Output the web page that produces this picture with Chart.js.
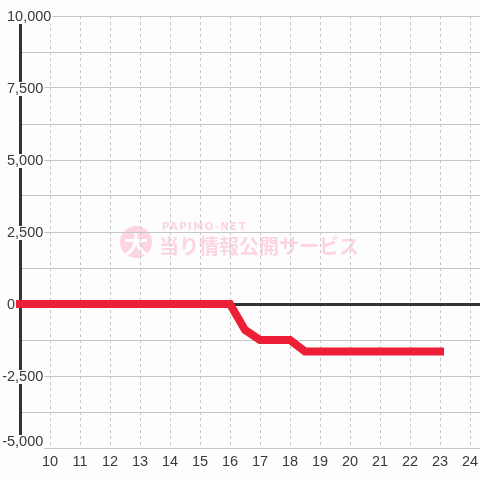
<!DOCTYPE html>
<html>
<head>
<meta charset="utf-8">
<script src="https://cdn.jsdelivr.net/npm/chart.js@4"></script>
<style>
  html, body { margin: 0; padding: 0; background: #fcfdfc; }
  #wrap { width: 480px; height: 480px; }
</style>
</head>
<body>
<div id="wrap"><canvas id="chart" width="480" height="480"></canvas></div>
<script>
// Hourly balance, sampled every half hour
const HOURS = [9, 9.5, 10, 10.5, 11, 11.5, 12, 12.5, 13, 13.5, 14, 14.5, 15, 15.5, 16,
               16.5, 17, 17.5, 18, 18.5, 19, 19.5, 20, 20.5, 21, 21.5, 22, 22.5, 23];
const BALANCE = [0, 0, 0, 0, 0, 0, 0, 0, 0, 0, 0, 0, 0, 0, 0,
                 -900, -1250, -1250, -1250, -1650, -1650, -1650, -1650, -1650, -1650, -1650, -1650, -1650, -1650];

const X_TICKS = [9, 10, 11, 12, 13, 14, 15, 16, 17, 18, 19, 20, 21, 22, 23, 24];
const Y_GRID = [-5000, -3750, -2500, -1250, 0, 1250, 2500, 3750, 5000, 6250, 7500, 8750, 10000];
const Y_LABELS = [-5000, -2500, 0, 2500, 5000, 7500, 10000];

const BG = '#fcfdfc';
const COLORS = {
    line: '#ec1f36',
    axis: '#333333',
    grid: '#c6c6c6',
    text: '#3a3a3a',
    mark: '#fcd4e4',
};
const FONT = '"Liberation Sans", Arial, sans-serif';

// ── Watermark (background) ────────────────────────────────────────────
const watermark = {
    id: 'watermark',
    beforeDraw(chart) {
        const c = chart.ctx;
        c.save();
        c.fillStyle = COLORS.mark;
        c.beginPath();
        c.arc(136, 242, 16, 0, Math.PI * 2);
        c.fill();
        c.fillStyle = BG;
        c.font = 'bold 24px "Noto Sans CJK JP"';
        c.textAlign = 'center';
        c.textBaseline = 'middle';
        c.fillText('大', 136, 244);
        c.fillStyle = COLORS.mark;
        c.textAlign = 'left';
        c.font = 'bold 10px "DejaVu Sans"';
        c.letterSpacing = '1.5px';
        c.fillText('PAPIMO-NET', 162, 227);
        c.letterSpacing = '0px';
        c.font = 'bold 20px "Noto Sans CJK JP"';
        c.fillText('当り情報公開サービス', 159, 246);
        c.restore();
    }
};

// ── Y labels with backdrop, left aligned, minus hanging ───────────────
const yLabels = {
    id: 'yLabels',
    beforeDatasetsDraw(chart) {
        const c = chart.ctx;
        const y = chart.scales.y;
        c.save();
        c.font = '14.5px ' + FONT;
        c.textBaseline = 'middle';
        c.textAlign = 'left';
        const minusW = c.measureText('-').width;
        Y_LABELS.forEach(v => {
            const txt = v.toLocaleString('en-US');
            const w = c.measureText(txt).width;
            const x = 7 - (v < 0 ? minusW : 0);
            const py = Math.min(y.getPixelForValue(v) + 1, chart.chartArea.bottom - 6);
            c.fillStyle = BG;
            c.fillRect(x - 1, py - 7, w + 2, 14);
            c.fillStyle = COLORS.text;
            c.fillText(txt, x, py);
        });
        c.restore();
    }
};

function initChart() {
    const ctx = document.getElementById('chart').getContext('2d');
    new Chart(ctx, {
        type: 'line',
        data: {
            datasets: [{
                data: HOURS.map((h, i) => ({ x: h, y: BALANCE[i] })),
                borderColor: COLORS.line,
                borderWidth: 8,
                borderCapStyle: 'square',
                borderJoinStyle: 'miter',
                pointRadius: 0,
                tension: 0,
                fill: false,
                clip: false,
            }]
        },
        options: {
            responsive: false,
            animation: false,
            events: [],
            layout: { padding: 0 },
            plugins: {
                legend: { display: false },
                tooltip: { enabled: false },
            },
            scales: {
                x: {
                    type: 'linear',
                    min: 9,
                    max: 24 + 1 / 3,
                    afterBuildTicks: s => { s.ticks = X_TICKS.map(v => ({ value: v })); },
                    afterFit: s => { s.height = 32; s.paddingLeft = 0; s.paddingRight = 0; },
                    ticks: {
                        color: COLORS.text,
                        font: { family: FONT, size: 14.5 },
                        padding: 5,
                        maxRotation: 0,
                        autoSkip: false,
                        callback: v => (v === 9 ? '' : String(v)),
                    },
                    grid: { color: COLORS.grid, lineWidth: 1, drawTicks: false },
                    border: { display: false, dash: [3, 3] },
                },
                y: {
                    min: -5000,
                    max: 10000,
                    afterBuildTicks: s => { s.ticks = Y_GRID.map(v => ({ value: v })); },
                    afterFit: s => { s.width = 20; s.paddingTop = 16; s.paddingBottom = 0; },
                    ticks: { display: false },
                    grid: {
                        drawTicks: false,
                        color: c => (c.tick && c.tick.value === 0 ? COLORS.axis : COLORS.grid),
                        lineWidth: c => (c.tick && c.tick.value === 0 ? 3 : 1),
                    },
                    border: { display: true, color: COLORS.axis, width: 3 },
                },
            },
        },
        plugins: [watermark, yLabels],
    });
}

initChart();
</script>
</body>
</html>
